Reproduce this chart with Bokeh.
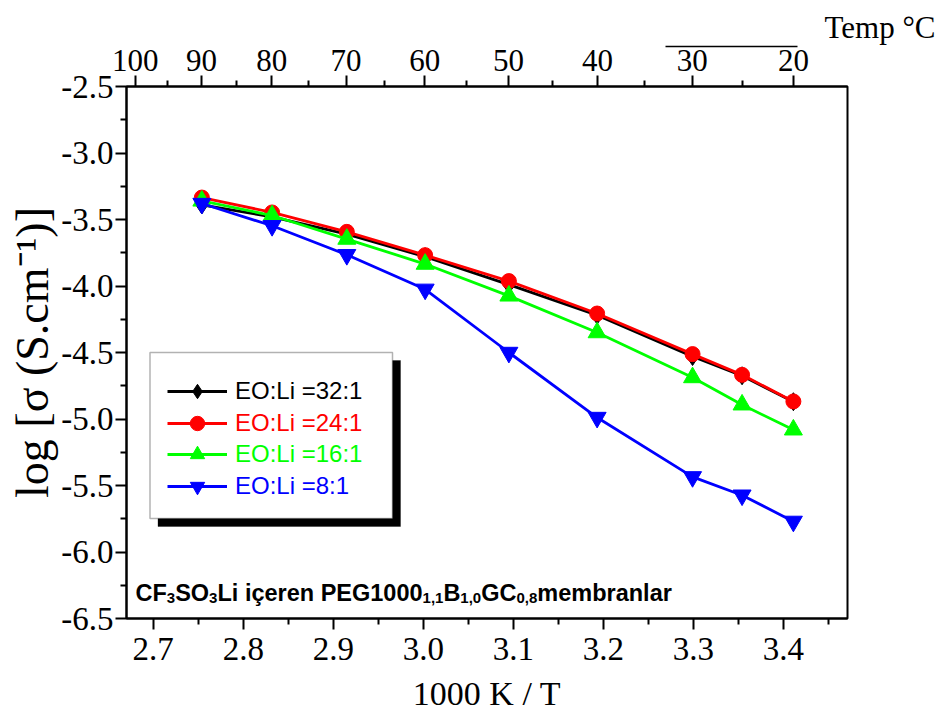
from bokeh.plotting import figure
from bokeh.models import (Range1d, LinearAxis, FixedTicker, CustomJSTickFormatter, Legend,
                          LegendItem, BoxAnnotation, Label, ColumnDataSource)
from bokeh.embed import file_html
from bokeh.resources import INLINE

# ---- data -------------------------------------------------------------
# 1000/T for the measurement temperatures 90, 80, 70, 60, 50, 40, 30, 25, 20 °C
inv_T = [2.754, 2.832, 2.915, 3.002, 3.095, 3.193, 3.299, 3.354, 3.411]

log_sigma_32 = [-3.39, -3.48, -3.61, -3.78, -3.99, -4.22, -4.53, -4.675, -4.87]
log_sigma_24 = [-3.335, -3.447, -3.593, -3.768, -3.963, -4.207, -4.512, -4.668, -4.868]
log_sigma_16 = [-3.36, -3.47, -3.647, -3.835, -4.074, -4.35, -4.688, -4.893, -5.081]
log_sigma_8 = [-3.38, -3.547, -3.765, -4.025, -4.50, -4.989, -5.435, -5.573, -5.77]

series_labels = ["EO:Li =32:1", "EO:Li =24:1", "EO:Li =16:1", "EO:Li =8:1"]

x_ticks = [2.7, 2.8, 2.9, 3.0, 3.1, 3.2, 3.3, 3.4]
x_minor = [2.75, 2.85, 2.95, 3.05, 3.15, 3.25, 3.35, 3.45]
y_ticks = [-2.5, -3.0, -3.5, -4.0, -4.5, -5.0, -5.5, -6.0, -6.5]
y_minor = [-2.75, -3.25, -3.75, -4.25, -4.75, -5.25, -5.75, -6.25]
temp_ticks = [100, 90, 80, 70, 60, 50, 40, 30, 20]
temp_minor = [95, 85, 75, 65, 55, 45, 35, 25]

SERIF = "Liberation Serif"
SANS = "Liberation Sans"
FRAME_BOTTOM = 618  # canvas y of the lower frame edge
X0, X1 = 2.6703, 3.4711

p = figure(width=943, height=722, output_backend="svg", toolbar_location=None,
           x_range=Range1d(X0, X1), y_range=Range1d(-6.5, -2.5),
           min_border_left=126, min_border_right=96, min_border_top=86, min_border_bottom=104)
p.xgrid.visible = False
p.ygrid.visible = False
p.outline_line_color = "black"
p.outline_line_width = 2

# temperature direction note, right-aligned past the frame edge
p.title.text = "Temp °C"
p.title.align = "right"
p.title.vertical_align = "top"
p.title.offset = -88
p.title.standoff = 0
p.title.text_font = SERIF
p.title.text_font_size = "31px"
p.title.text_font_style = "normal"
p.title.text_color = "black"


def style_axis(ax):
    ax.axis_line_width = 2
    ax.axis_line_color = "black"
    ax.major_tick_line_width = 2
    ax.minor_tick_line_width = 2
    ax.major_tick_line_color = "black"
    ax.minor_tick_line_color = "black"
    ax.major_tick_in = 0
    ax.major_tick_out = 11
    ax.minor_tick_in = 0
    ax.minor_tick_out = 6
    ax.major_label_text_font = SERIF
    ax.major_label_text_font_size = "33px"
    ax.major_label_text_color = "black"
    ax.axis_label_text_font = SERIF
    ax.axis_label_text_font_size = "34px"
    ax.axis_label_text_font_style = "normal"
    ax.axis_label_text_color = "black"


xa = p.xaxis[0]
xa.ticker = FixedTicker(ticks=x_ticks, minor_ticks=x_minor)
xa.formatter = CustomJSTickFormatter(code="return tick.toFixed(1);")
xa.axis_label = "1000 K / T"
style_axis(xa)
xa.major_label_standoff = 8
xa.axis_label_standoff = 12

ya = p.yaxis[0]
ya.ticker = FixedTicker(ticks=y_ticks, minor_ticks=y_minor)
ya.formatter = CustomJSTickFormatter(code="return tick.toFixed(1);")
ya.axis_label = "log [σ (S.cm⁻¹)]"
style_axis(ya)
ya.axis_label_text_font_size = "46px"
ya.major_label_standoff = 2
ya.axis_label_standoff = 0

# upper axis: the same 1000/T scale labelled in degrees Celsius
top = LinearAxis(
    ticker=FixedTicker(ticks=[1000.0 / (t + 273.15) for t in temp_ticks],
                       minor_ticks=[1000.0 / (t + 273.15) for t in temp_minor]),
    formatter=CustomJSTickFormatter(code="return Math.round(1000 / tick - 273.15).toString();"))
style_axis(top)
top.major_label_text_font_size = "31px"
top.major_label_standoff = 5
p.add_layout(top, "above")

# short bare axis line beside "Temp °C": points toward higher temperature
px_per_unit = 721 / (X1 - X0)
pointer = LinearAxis(ticker=FixedTicker(ticks=[], minor_ticks=[]),
                     bounds=(X0 + (665 - 126) / px_per_unit, X0 + (797 - 126) / px_per_unit),
                     axis_line_color="black", axis_line_width=1.5,
                     major_tick_in=0, major_tick_out=0, minor_tick_in=0, minor_tick_out=0,
                     major_label_standoff=0)
p.add_layout(pointer, "above")

# ---- series -------------------------------------------------------------
specs = [
    (log_sigma_32, "black", "diamond", 18),
    (log_sigma_24, "#ff0000", "circle", 15),
    (log_sigma_16, "#00ff00", "triangle", 18),
    (log_sigma_8, "#0000ff", "inverted_triangle", 18),
]
items = []
for (ys, color, marker, size), label in zip(specs, series_labels):
    src = ColumnDataSource(dict(x=inv_T, y=ys))
    lr = p.line("x", "y", source=src, line_color=color, line_width=2.8)
    sr = p.scatter("x", "y", source=src, marker=marker, size=size,
                   fill_color=color, line_color=color, line_width=1)
    items.append((label, color, [lr, sr]))

# ---- legend box with drop shadow -----------------------------------------
box_l, box_r, box_b, box_t = 23.5, 266, 100, 266
p.add_layout(BoxAnnotation(left=box_l + 8, right=box_r + 8, bottom=box_b - 8, top=box_t - 8,
                           left_units="screen", right_units="screen",
                           bottom_units="screen", top_units="screen",
                           fill_color="black", fill_alpha=1, line_color="black"))
p.add_layout(BoxAnnotation(left=box_l, right=box_r, bottom=box_b, top=box_t,
                           left_units="screen", right_units="screen",
                           bottom_units="screen", top_units="screen",
                           fill_color="white", fill_alpha=1, line_color="black", line_width=1.5))

row_h = 31.7
glyph_h = 36
first_center = FRAME_BOTTOM - 391  # frame-relative centre of the first row
for i, (label, color, rends) in enumerate(items):
    cy = first_center - i * row_h
    leg = Legend(items=[LegendItem(label=label, renderers=rends)],
                 location=(41, cy - glyph_h / 2), orientation="vertical",
                 border_line_color=None, background_fill_alpha=0,
                 padding=0, margin=0, spacing=0,
                 glyph_width=60, glyph_height=glyph_h, label_height=glyph_h, label_standoff=8,
                 label_text_font=SANS, label_text_font_size="24px",
                 label_text_color=color, label_text_baseline="middle")
    p.add_layout(leg, "center")

# ---- caption with subscripts --------------------------------------------
arial_bold = {
    "C": 722, "F": 611, "S": 667, "O": 778, "L": 611, "i": 278, " ": 278, "ç": 556,
    "e": 556, "r": 389, "n": 611, "P": 667, "E": 667, "G": 778, "1": 556, "0": 556,
    "B": 722, "m": 889, "b": 611, "a": 556, "l": 278, ",": 278, "3": 556, "8": 556,
}
caption = [("CF", False), ("3", True), ("SO", False), ("3", True),
           ("Li içeren PEG1000", False), ("1,1", True), ("B", False), ("1,0", True),
           ("GC", False), ("0,8", True), (" membranlar", False)]
main_size, sub_size = 23.5, 15
cx, base_y = 9, 26
for txt, sub in caption:
    fs = sub_size if sub else main_size
    p.add_layout(Label(x=cx, y=base_y - (5 if sub else 0), x_units="screen", y_units="screen",
                       text=txt, text_font=SANS, text_font_size=f"{fs}px",
                       text_font_style="bold", text_color="black",
                       text_baseline="alphabetic", text_align="left"))
    cx += sum(arial_bold[c] for c in txt) * fs / 1000.0

open("out.html", "w").write(file_html(p, INLINE))
